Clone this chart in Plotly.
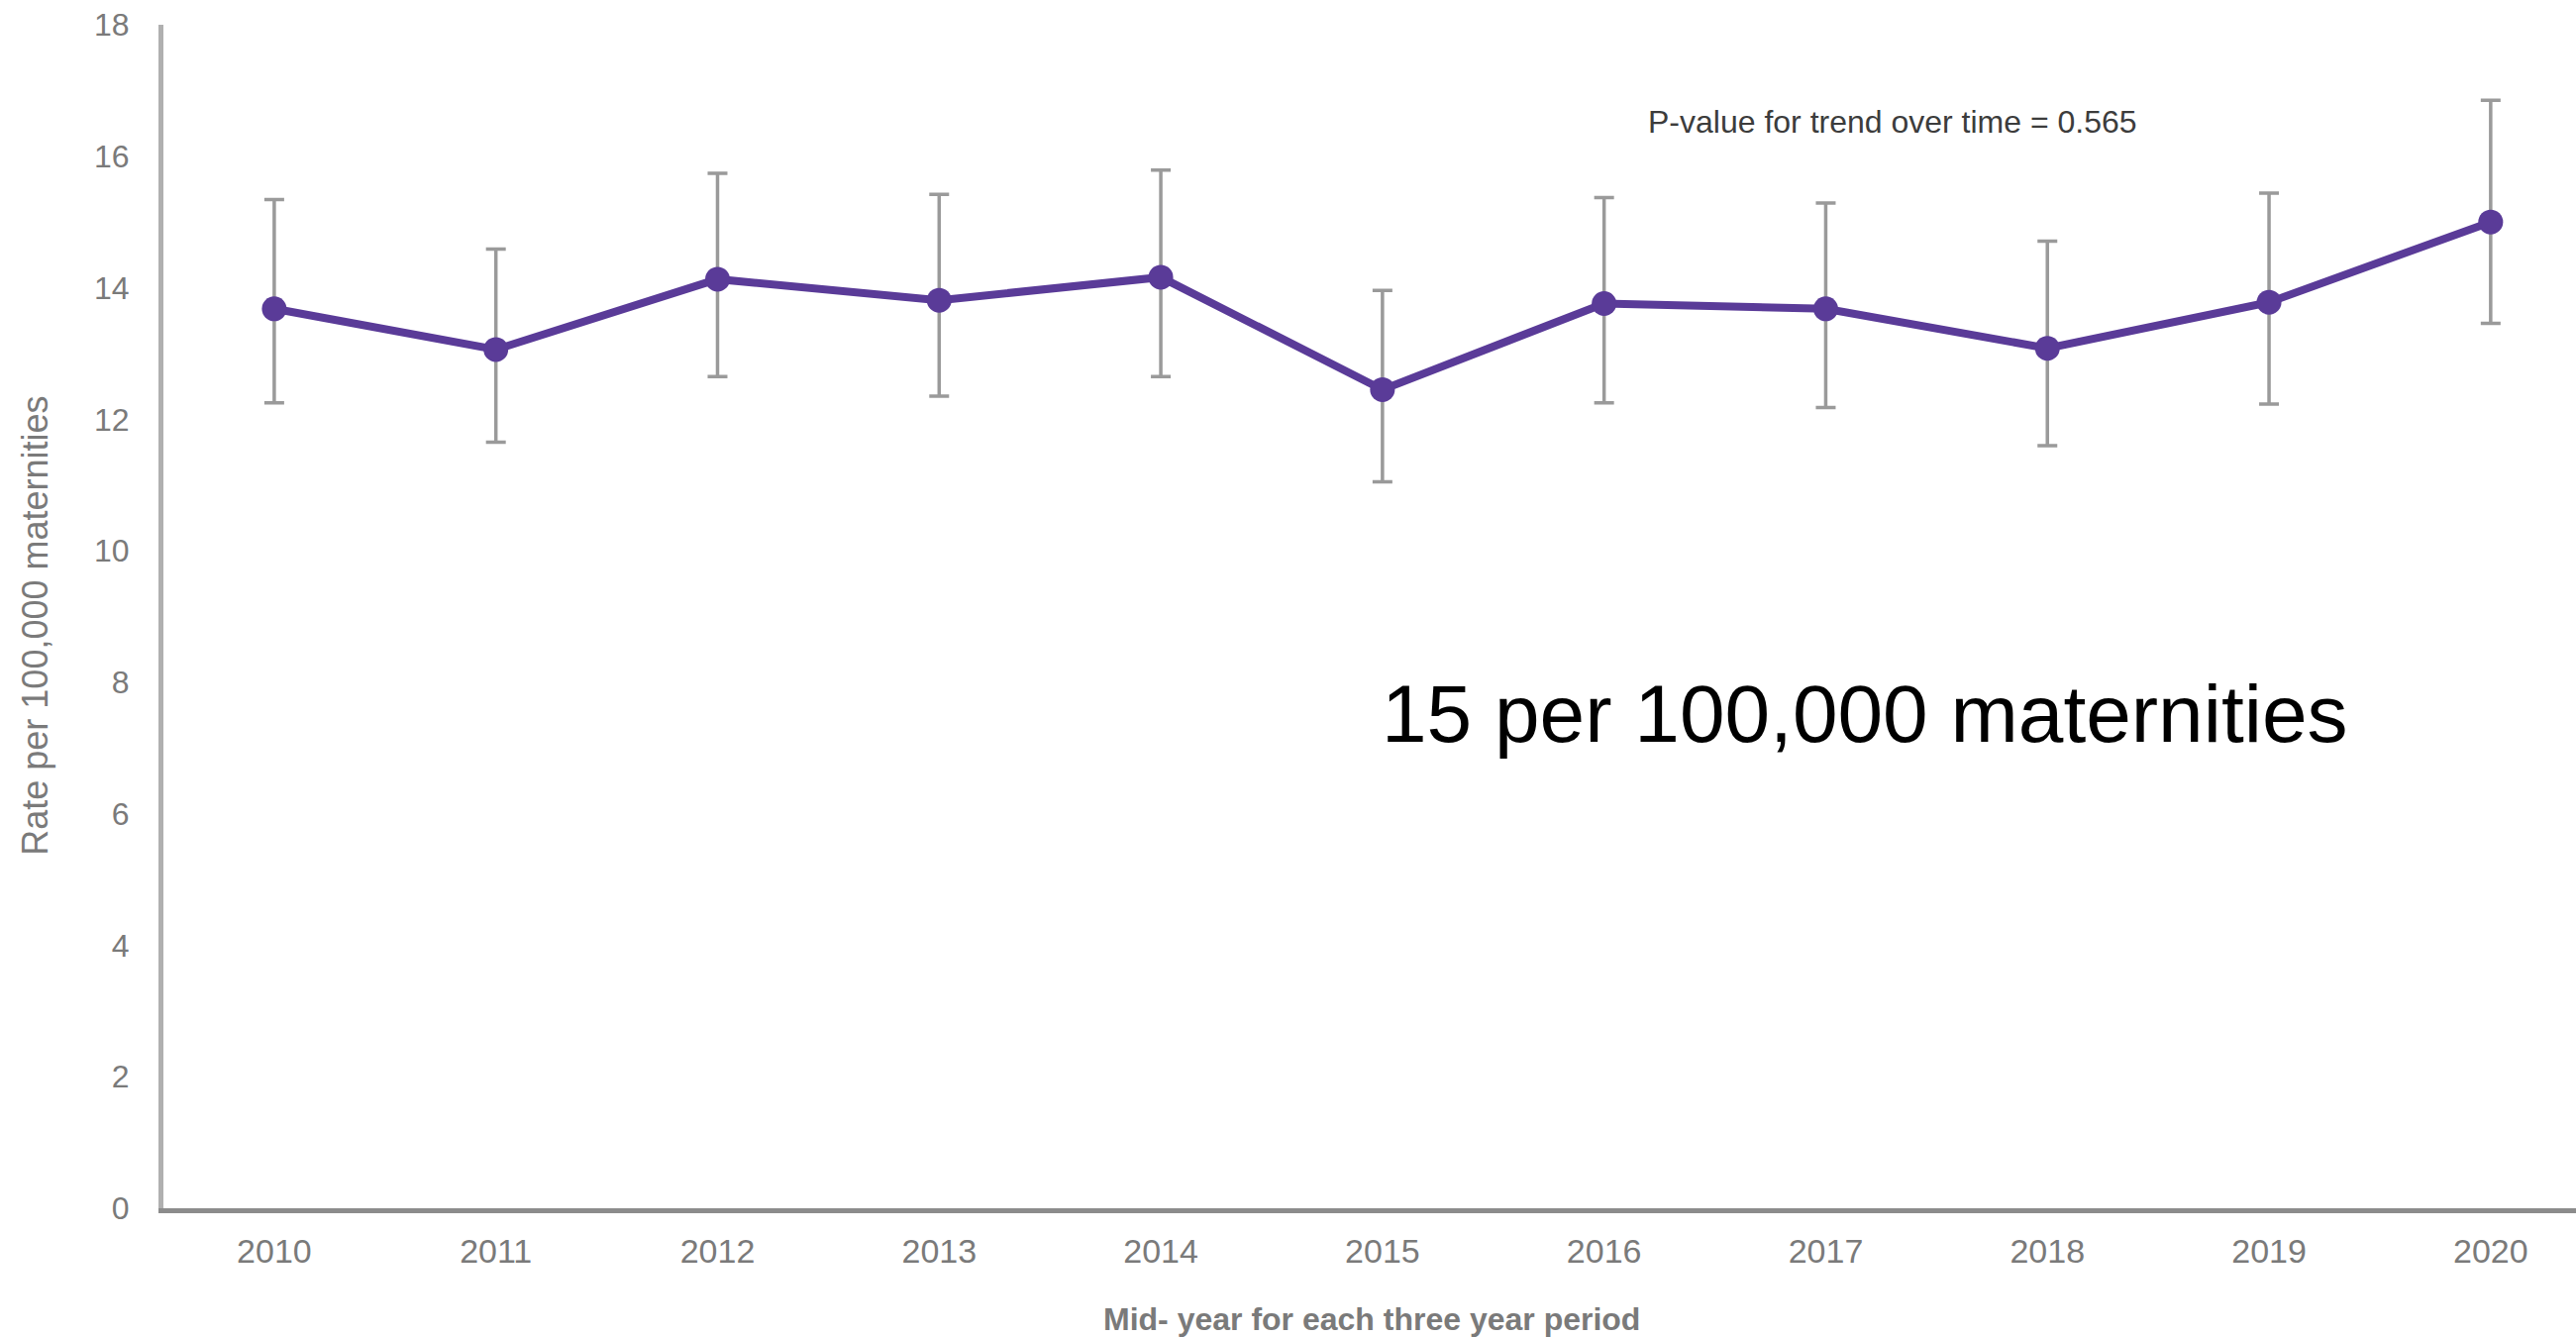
import plotly.graph_objects as go

# Mid-year of each rolling three-year period
years = ["2010", "2011", "2012", "2013", "2014", "2015",
         "2016", "2017", "2018", "2019", "2020"]

# Rate per 100,000 maternities with 95% confidence limits
rate = [13.68, 13.06, 14.13, 13.81, 14.16, 12.45, 13.76, 13.68, 13.08, 13.78, 15.0]
upper = [15.34, 14.59, 15.74, 15.42, 15.79, 13.96, 15.37, 15.29, 14.71, 15.44, 16.85]
lower = [12.25, 11.65, 12.65, 12.35, 12.65, 11.05, 12.25, 12.18, 11.60, 12.23, 13.46]

y_ticks = [0, 2, 4, 6, 8, 10, 12, 14, 16, 18]

err_plus = [u - r for u, r in zip(upper, rate)]
err_minus = [r - l for r, l in zip(rate, lower)]

PURPLE = "#5a3b98"
FONT = "Liberation Sans, Arial, sans-serif"

fig = go.Figure()
fig.add_trace(go.Scatter(
    x=years,
    y=rate,
    mode="lines+markers",
    line=dict(color=PURPLE, width=8),
    marker=dict(color=PURPLE, size=25),
    error_y=dict(
        type="data",
        symmetric=False,
        array=err_plus,
        arrayminus=err_minus,
        color="#9a9a9a",
        thickness=3.5,
        width=10,
    ),
    showlegend=False,
))

fig.update_layout(
    width=2601,
    height=1350,
    margin=dict(l=165, r=0, t=25, b=130),
    paper_bgcolor="white",
    plot_bgcolor="white",
    font=dict(family=FONT, color="#7a7a7a"),
    xaxis=dict(
        type="category",
        range=[-0.5, 10.385],
        showgrid=False,
        zeroline=False,
        showline=True,
        linecolor="#8c8c8c",
        linewidth=5,
        ticks="outside",
        ticklen=9,
        tickcolor="rgba(0,0,0,0)",
        tickfont=dict(size=34, color="#7a7a7a"),
    ),
    yaxis=dict(
        range=[0, 18],
        tickvals=y_ticks,
        showgrid=False,
        zeroline=False,
        showline=True,
        linecolor="#b0b0b0",
        linewidth=5,
        ticks="outside",
        ticklen=23,
        tickcolor="rgba(0,0,0,0)",
        tickfont=dict(size=32, color="#7a7a7a"),
    ),
    annotations=[
        dict(
            text="Rate per 100,000 maternities",
            xref="paper", yref="paper",
            x=-0.0535, y=0.492,
            xanchor="center", yanchor="middle",
            textangle=-90, showarrow=False,
            font=dict(size=36, color="#7a7a7a", family=FONT),
        ),
        dict(
            text="<b>Mid- year for each three year period</b>",
            xref="paper", yref="paper",
            x=0.5008, y=-0.0937,
            xanchor="center", yanchor="middle",
            showarrow=False,
            font=dict(size=32, color="#7a7a7a", family=FONT),
        ),
        dict(
            text="P-value for trend over time = 0.565",
            xref="paper", yref="paper",
            x=0.6145, y=0.918,
            xanchor="left", yanchor="middle",
            showarrow=False,
            font=dict(size=32, color="#3c3c3c", family=FONT),
        ),
        dict(
            text="15 per 100,000 maternities",
            xref="paper", yref="paper",
            x=0.504, y=0.418,
            xanchor="left", yanchor="middle",
            showarrow=False,
            font=dict(size=82, color="#000000", family=FONT),
        ),
    ],
)

fig.write_html("out.html")
